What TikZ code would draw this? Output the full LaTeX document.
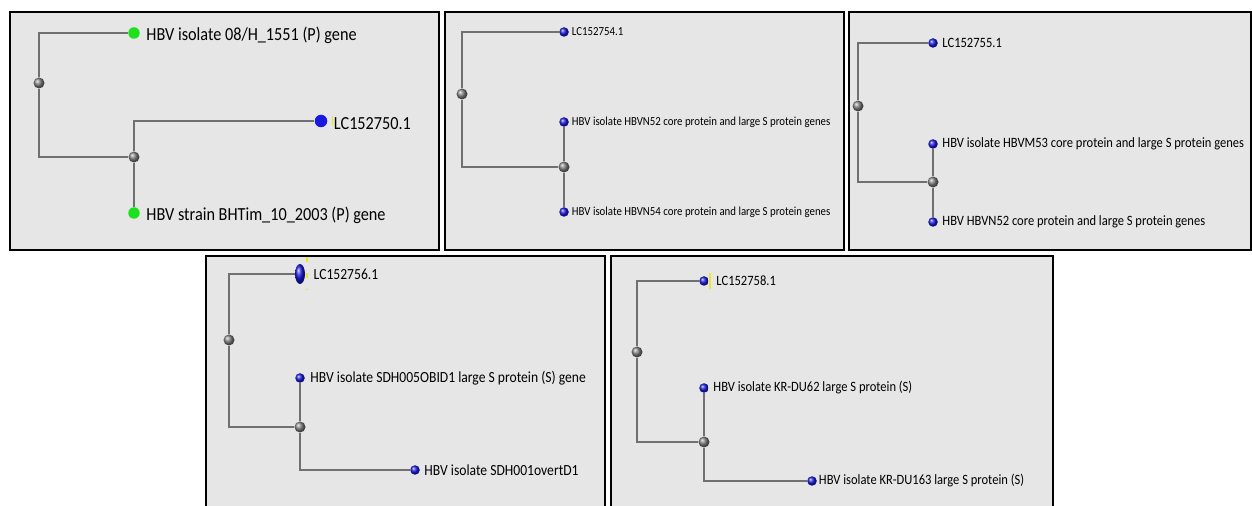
\documentclass[tikz,border=0pt]{standalone}
\usepackage{fontspec}
\setmainfont{Carlito}[FakeStretch=0.88]
\usetikzlibrary{positioning, shapes.geometric}
\definecolor{panelgray}{RGB}{230,230,230}
\definecolor{branchgray}{RGB}{112,112,112}
\definecolor{leafgreen}{RGB}{30,225,30}
\definecolor{leafblue}{RGB}{25,25,225}
\definecolor{markyellow}{RGB}{238,228,40}

\begin{document}
\begin{tikzpicture}[x=0.02cm, y=-0.02cm,
    panel/.style={draw=black, line width=1.2pt, fill=panelgray},
    branch/.style={draw=branchgray, line width=0.8pt},
    innode/.style={circle, inner sep=0pt, minimum size=0.22cm,
        shading=ball, ball color=gray},
    leafg/.style={circle, inner sep=0pt, minimum size=0.23cm,
        fill=leafgreen},
    leafbig/.style={circle, inner sep=0pt, minimum size=0.25cm,
        fill=leafblue},
    leafb/.style={circle, inner sep=0pt, minimum size=0.19cm,
        shading=ball, ball color=leafblue},
    taxon/.style={inner sep=0pt},
    tA/.style={taxon, yshift=-0.05cm, font=\fontsize{10.5}{12}\selectfont},
    tB/.style={taxon, font=\fontsize{7}{8}\selectfont},
    tC/.style={taxon, font=\fontsize{8.1}{9}\selectfont},
    tD/.style={taxon, font=\fontsize{8.8}{10}\selectfont},
    tE/.style={taxon, font=\fontsize{8.1}{9}\selectfont},
    selbar/.style={draw=markyellow, line width=0.6pt}
]
\useasboundingbox (0,0) rectangle (1252,506);

% panel A
\draw[panel] (10,12) rectangle (439,250);
\node[innode] (a0) at (39,83) {};
\node[innode] (a1) at (134,157) {};
\node[leafg] (a2) at (134,33) {};
\node[leafbig] (a3) at (321,121) {};
\node[leafg] (a4) at (134,213) {};
\draw[branch] (a0) |- (a2);
\draw[branch] (a0) |- (a1);
\draw[branch] (a1) |- (a3);
\draw[branch] (a1) -- (a4);
\draw[selbar] ([xshift=0.14cm]a3.north east) -- ([xshift=0.14cm]a3.south east);
\node[tA, right=0.12cm of a2] {HBV isolate 08/H\_1551 (P) gene};
\node[tA, right=0.12cm of a3] {LC152750.1};
\node[tA, right=0.12cm of a4] {HBV strain BHTim\_10\_2003 (P) gene};

% panel B
\draw[panel] (445,12) rectangle (844,250);
\node[innode] (b0) at (462,94) {};
\node[innode] (b1) at (564,167) {};
\node[leafb] (b2) at (564,32) {};
\node[leafb] (b3) at (564,122) {};
\node[leafb] (b4) at (564,212) {};
\draw[branch] (b0) |- (b2);
\draw[branch] (b0) |- (b1);
\draw[branch] (b1) -- (b3);
\draw[branch] (b1) -- (b4);
\node[tB, right=0.05cm of b2] {LC152754.1};
\node[tB, right=0.05cm of b3] {HBV isolate HBVN52 core protein and large S protein genes};
\node[tB, right=0.05cm of b4] {HBV isolate HBVN54 core protein and large S protein genes};

% panel C
\draw[panel] (849,12) rectangle (1251,250);
\node[innode] (c0) at (858,106) {};
\node[innode] (c1) at (933,182) {};
\node[leafb] (c2) at (933,43) {};
\node[leafb] (c3) at (933,144) {};
\node[leafb] (c4) at (933,222) {};
\draw[branch] (c0) |- (c2);
\draw[branch] (c0) |- (c1);
\draw[branch] (c1) -- (c3);
\draw[branch] (c1) -- (c4);
\node[tC, right=0.08cm of c2] {LC152755.1};
\node[tC, right=0.08cm of c3] {HBV isolate HBVM53 core protein and large S protein genes};
\node[tC, right=0.08cm of c4] {HBV HBVN52 core protein and large S protein genes};

% panel D
\draw[panel] (206,256) rectangle (605,520);
\node[innode] (d0) at (229,340) {};
\node[innode] (d1) at (300,427) {};
\node[leafb, ellipse, minimum width=0.2cm, minimum height=0.4cm] (d2) at (300,274) {};
\node[leafb] (d3) at (300,378) {};
\node[leafb] (d4) at (415,470) {};
\draw[branch] (d0) |- (d2);
\draw[branch] (d0) |- (d1);
\draw[branch] (d1) -- (d3);
\draw[branch] (d1) |- (d4);
\draw[selbar, dash pattern=on 3pt off 6pt] (307,257) -- (307,290);
\node[tD, right=0.16cm of d2] {LC152756.1};
\node[tD, right=0.1cm of d3] {HBV isolate SDH005OBID1 large S protein (S) gene};
\node[tD, right=0.08cm of d4] {HBV isolate SDH001overtD1};

% panel E
\draw[panel] (611,256) rectangle (1053,520);
\node[innode] (e0) at (637,352) {};
\node[innode] (e1) at (704,442) {};
\node[leafb] (e2) at (704,281) {};
\node[leafb] (e3) at (704,388) {};
\node[leafb] (e4) at (812,481) {};
\draw[branch] (e0) |- (e2);
\draw[branch] (e0) |- (e1);
\draw[branch] (e1) -- (e3);
\draw[branch] (e1) |- (e4);
\draw[selbar] (710,273) -- (710,289);
\node[tE, right=0.14cm of e2] {LC152758.1};
\node[tE, right=0.08cm of e3] {HBV isolate KR-DU62 large S protein (S)};
\node[tE, right=0.03cm of e4] {HBV isolate KR-DU163 large S protein (S)};
\end{tikzpicture}
\end{document}
